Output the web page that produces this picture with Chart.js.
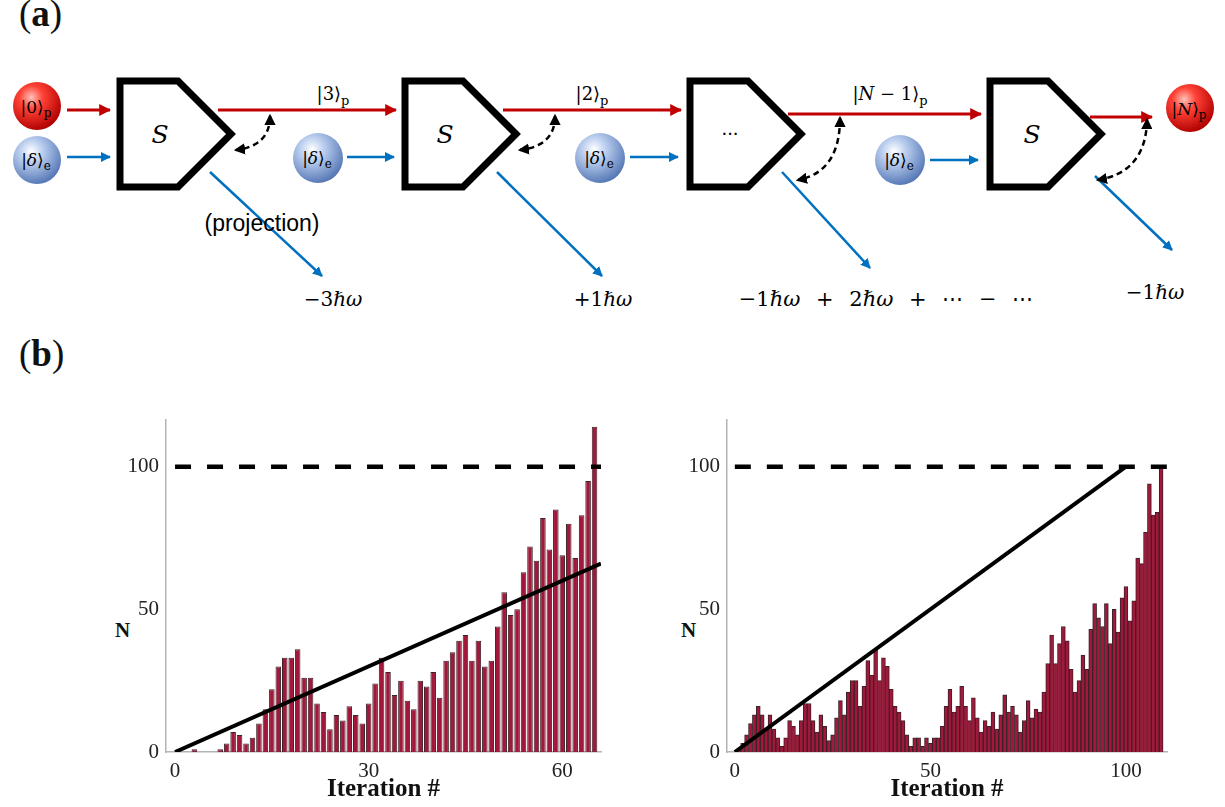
<!DOCTYPE html>
<html>
<head>
<meta charset="utf-8">
<script src="https://cdn.jsdelivr.net/npm/chart.js@4.4.1/dist/chart.umd.min.js"></script>
<style>
  body { margin: 0; background: #fff; width: 1225px; height: 807px; position: relative; overflow: hidden; font-family: "Liberation Serif", serif; }
  .abs { position: absolute; }
  .panel { font-size: 37px; color: #111; }
  .panel b { font-weight: bold; }
  .ylab { font-weight: bold; font-size: 21px; color: #111; }
  svg text { font-family: "DejaVu Serif", "Liberation Serif", serif; }
</style>
</head>
<body>

<div class="abs panel" style="left:19px; top:-8px;">(<b>a</b>)</div>
<div class="abs panel" style="left:19px; top:332px;">(<b>b</b>)</div>
<div class="abs ylab" style="left:115px; top:618px;">N</div>
<div class="abs ylab" style="left:681px; top:618px;">N</div>

<svg class="abs" style="left:0; top:0;" width="1225" height="330">
  <defs>
    <marker id="hr" viewBox="0 0 10 10" refX="9" refY="5" markerWidth="4" markerHeight="4" orient="auto">
      <path d="M0,0 L10,5 L0,10 z" fill="#c00000"/>
    </marker>
    <marker id="hb" viewBox="0 0 10 10" refX="9" refY="5" markerWidth="4" markerHeight="4" orient="auto">
      <path d="M0,0 L10,5 L0,10 z" fill="#0070c0"/>
    </marker>
    <marker id="hk" viewBox="0 0 10 10" refX="8" refY="5" markerWidth="4.5" markerHeight="4.5" orient="auto-start-reverse">
      <path d="M0,0 L10,5 L0,10 z" fill="#000"/>
    </marker>
    <radialGradient id="gr" cx="38%" cy="32%" r="70%">
      <stop offset="0%" stop-color="#ffc2b8"/>
      <stop offset="35%" stop-color="#ff4236"/>
      <stop offset="100%" stop-color="#b00000"/>
    </radialGradient>
    <radialGradient id="gb" cx="38%" cy="32%" r="70%">
      <stop offset="0%" stop-color="#ffffff"/>
      <stop offset="35%" stop-color="#b9cdee"/>
      <stop offset="100%" stop-color="#5577b5"/>
    </radialGradient>
  </defs>

  <!-- boxes -->
  <g fill="none" stroke="#000" stroke-width="7" stroke-linejoin="miter">
    <path d="M120,81 L178,81 L231,134 L178,187 L120,187 Z"/>
    <path d="M405,81 L463,81 L516,134 L463,187 L405,187 Z"/>
    <path d="M690,81 L748,81 L801,134 L748,187 L690,187 Z"/>
    <path d="M990,81 L1048,81 L1101,134 L1048,187 L990,187 Z"/>
  </g>
  <g font-style="italic" font-size="25" text-anchor="middle">
    <text x="160" y="143">S</text>
    <text x="445" y="143">S</text>
    <text x="1032" y="143">S</text>
  </g>
  <text x="730" y="140" font-size="18" text-anchor="middle">···</text>

  <!-- red photon arrows -->
  <g stroke="#c00000" stroke-width="3" marker-end="url(#hr)">
    <line x1="67" y1="110" x2="110" y2="110"/>
    <line x1="218" y1="110" x2="396" y2="110"/>
    <line x1="503" y1="110" x2="681" y2="110"/>
    <line x1="788" y1="114" x2="981" y2="114"/>
    <line x1="1090" y1="117" x2="1152" y2="117"/>
  </g>
  <!-- blue electron arrows -->
  <g stroke="#0070c0" stroke-width="2.5" marker-end="url(#hb)">
    <line x1="67" y1="157" x2="110" y2="157"/>
    <line x1="347" y1="157" x2="394" y2="157"/>
    <line x1="630" y1="157" x2="678" y2="157"/>
    <line x1="930" y1="160" x2="978" y2="160"/>
    <line x1="210" y1="172" x2="322" y2="276"/>
    <line x1="497" y1="172" x2="602" y2="276"/>
    <line x1="782" y1="172" x2="870" y2="268"/>
    <line x1="1095" y1="176" x2="1172" y2="250"/>
  </g>
  <!-- dashed exchange arrows -->
  <g fill="none" stroke="#000" stroke-width="2.5" stroke-dasharray="6,4" marker-start="url(#hk)" marker-end="url(#hk)">
    <path d="M270,116 Q270,146 236,150"/>
    <path d="M555,116 Q555,146 520,150"/>
    <path d="M840,118 Q840,172 798,180"/>
    <path d="M1147,120 Q1146,172 1098,180"/>
  </g>

  <!-- spheres -->
  <circle cx="37" cy="106" r="24" fill="url(#gr)"/>
  <circle cx="37" cy="160" r="24" fill="url(#gb)"/>
  <circle cx="318" cy="158" r="25" fill="url(#gb)"/>
  <circle cx="600" cy="158" r="25" fill="url(#gb)"/>
  <circle cx="900" cy="160" r="25" fill="url(#gb)"/>
  <circle cx="1190" cy="108" r="24" fill="url(#gr)"/>
  <g font-size="17" text-anchor="middle">
    <text x="36" y="113">|0⟩<tspan font-size="12" dy="4">p</tspan></text>
    <text x="36" y="166">|<tspan font-style="italic">δ</tspan>⟩<tspan font-size="12" dy="4">e</tspan></text>
    <text x="317" y="164">|<tspan font-style="italic">δ</tspan>⟩<tspan font-size="12" dy="4">e</tspan></text>
    <text x="599" y="164">|<tspan font-style="italic">δ</tspan>⟩<tspan font-size="12" dy="4">e</tspan></text>
    <text x="899" y="166">|<tspan font-style="italic">δ</tspan>⟩<tspan font-size="12" dy="4">e</tspan></text>
    <text x="1189" y="115">|<tspan font-style="italic">N</tspan>⟩<tspan font-size="12" dy="4">p</tspan></text>
  </g>

  <!-- state labels -->
  <g font-size="18" text-anchor="middle">
    <text x="333" y="100">|3⟩<tspan font-size="13" dy="5">p</tspan></text>
    <text x="592" y="100">|2⟩<tspan font-size="13" dy="5">p</tspan></text>
    <text x="890" y="100">|<tspan font-style="italic">N</tspan> − 1⟩<tspan font-size="13" dy="5">p</tspan></text>
  </g>
  <text x="262" y="231" font-size="23" text-anchor="middle" style="font-family:'Liberation Sans',sans-serif">(projection)</text>
  <g font-size="20" text-anchor="middle">
    <text x="333" y="306">−3<tspan font-style="italic">ℏω</tspan></text>
    <text x="603" y="306">+1<tspan font-style="italic">ℏω</tspan></text>
    <text x="886" y="306" font-size="21" style="word-spacing:9px">−1<tspan font-style="italic">ℏω</tspan> + 2<tspan font-style="italic">ℏω</tspan> + ⋯ − ⋯</text>
    <text x="1155" y="299">−1<tspan font-style="italic">ℏω</tspan></text>
  </g>
</svg>

<div class="abs" style="left:100px; top:400px;"><canvas id="cl" width="520" height="407"></canvas></div>
<div class="abs" style="left:661px; top:400px;"><canvas id="cr" width="525" height="407"></canvas></div>

<script>
// left run: photon number after each iteration
const itersL = [];
for (let i = 1; i <= 65; i++) itersL.push(i);
const countsL = [0, 0, 1, 0, 0, 0, 1, 3, 7, 6, 3, 5, 10, 15, 22, 30, 33, 33, 36, 26,
  26, 17, 14, 8, 13, 11, 16, 13, 10, 17, 24, 33, 28, 20, 25, 18, 15, 25, 23, 28,
  19, 32, 35, 39, 41, 32, 39, 30, 32, 44, 56, 48, 50, 63, 72, 67, 82, 71, 85, 69,
  80, 68, 83, 95, 114];

// right run
const itersR = [];
for (let i = 1; i <= 109; i++) itersR.push(i);
const countsR = [1, 3, 6, 10, 13, 16, 13, 8, 13, 8, 5, 2, 5, 11, 9, 6, 11, 17, 17, 11,
  7, 13, 9, 4, 6, 12, 18, 13, 21, 25, 25, 16, 23, 32, 27, 36, 25, 33, 30, 22,
  16, 14, 11, 6, 2, 5, 5, 2, 5, 3, 5, 5, 9, 16, 22, 14, 16, 23, 16, 11,
  19, 12, 7, 11, 9, 14, 8, 13, 20, 14, 16, 13, 7, 11, 18, 12, 15, 14, 21, 31,
  41, 31, 38, 44, 39, 29, 21, 25, 34, 29, 43, 52, 47, 44, 52, 38, 50, 42, 54, 58,
  46, 53, 68, 66, 77, 94, 83, 84, 100];

// ideal one-photon-per-iteration line and target level
const idealXL = [0, 66];
const idealXR = [0, 100];
const targetN = 100;
const xRangeL = [-1.4, 66];
const xRangeR = [-2, 110.5];
const xTicksL = [0, 30, 60];
const xTicksR = [0, 50, 100];
const yTicks = [0, 50, 100];
const yMax = 116.5;

const serif = 'Liberation Serif';

function makeChart(id, iters, counts, idealX, xRange, xTicks, barPct) {
  const bars = iters.map((x, i) => ({x: x, y: counts[i]}));
  return new Chart(document.getElementById(id), {
    type: 'bar',
    data: {
      datasets: [
        {
          type: 'line',
          data: idealX.map(v => ({x: v, y: v})),
          borderColor: '#000', borderWidth: 4, pointRadius: 0, order: 0
        },
        {
          type: 'line',
          data: [{x: 0, y: targetN}, {x: xRange[1], y: targetN}],
          borderColor: '#000', borderWidth: 4.5, borderDash: [16, 16],
          borderCapStyle: 'butt', pointRadius: 0, order: 0
        },
        {
          data: bars,
          backgroundColor: '#a2183a', borderColor: '#3a2228', borderWidth: 1,
          barPercentage: barPct, categoryPercentage: 1, order: 1
        }
      ]
    },
    options: {
      responsive: false,
      animation: false,
      layout: {padding: {top: 18, right: 19, left: 0, bottom: 0}},
      plugins: {legend: {display: false}, tooltip: {enabled: false}},
      scales: {
        x: {
          type: 'linear', min: xRange[0], max: xRange[1], offset: false,
          grid: {display: false, drawTicks: false},
          border: {display: true, color: '#b4b4b4', width: 1.5},
          afterBuildTicks: s => { s.ticks = xTicks.map(v => ({value: v})); },
          ticks: {font: {family: serif, size: 21}, color: '#222', padding: 7, maxRotation: 0},
          title: {display: true, text: 'Iteration #', color: '#111',
                  font: {family: serif, size: 25, weight: 'bold'}, padding: {top: 0, bottom: 2}},
          afterFit: s => { s.height = 55; }
        },
        y: {
          min: 0, max: yMax,
          grid: {display: false, drawTicks: false},
          border: {display: true, color: '#b4b4b4', width: 1.5},
          afterBuildTicks: s => { s.ticks = yTicks.map(v => ({value: v})); },
          ticks: {font: {family: serif, size: 21}, color: '#222', padding: 7},
          afterFit: s => { s.width = 66; }
        }
      }
    }
  });
}

makeChart('cl', itersL, countsL, idealXL, xRangeL, xTicksL, 0.86);
makeChart('cr', itersR, countsR, idealXR, xRangeR, xTicksR, 1.0);
</script>
</body>
</html>
